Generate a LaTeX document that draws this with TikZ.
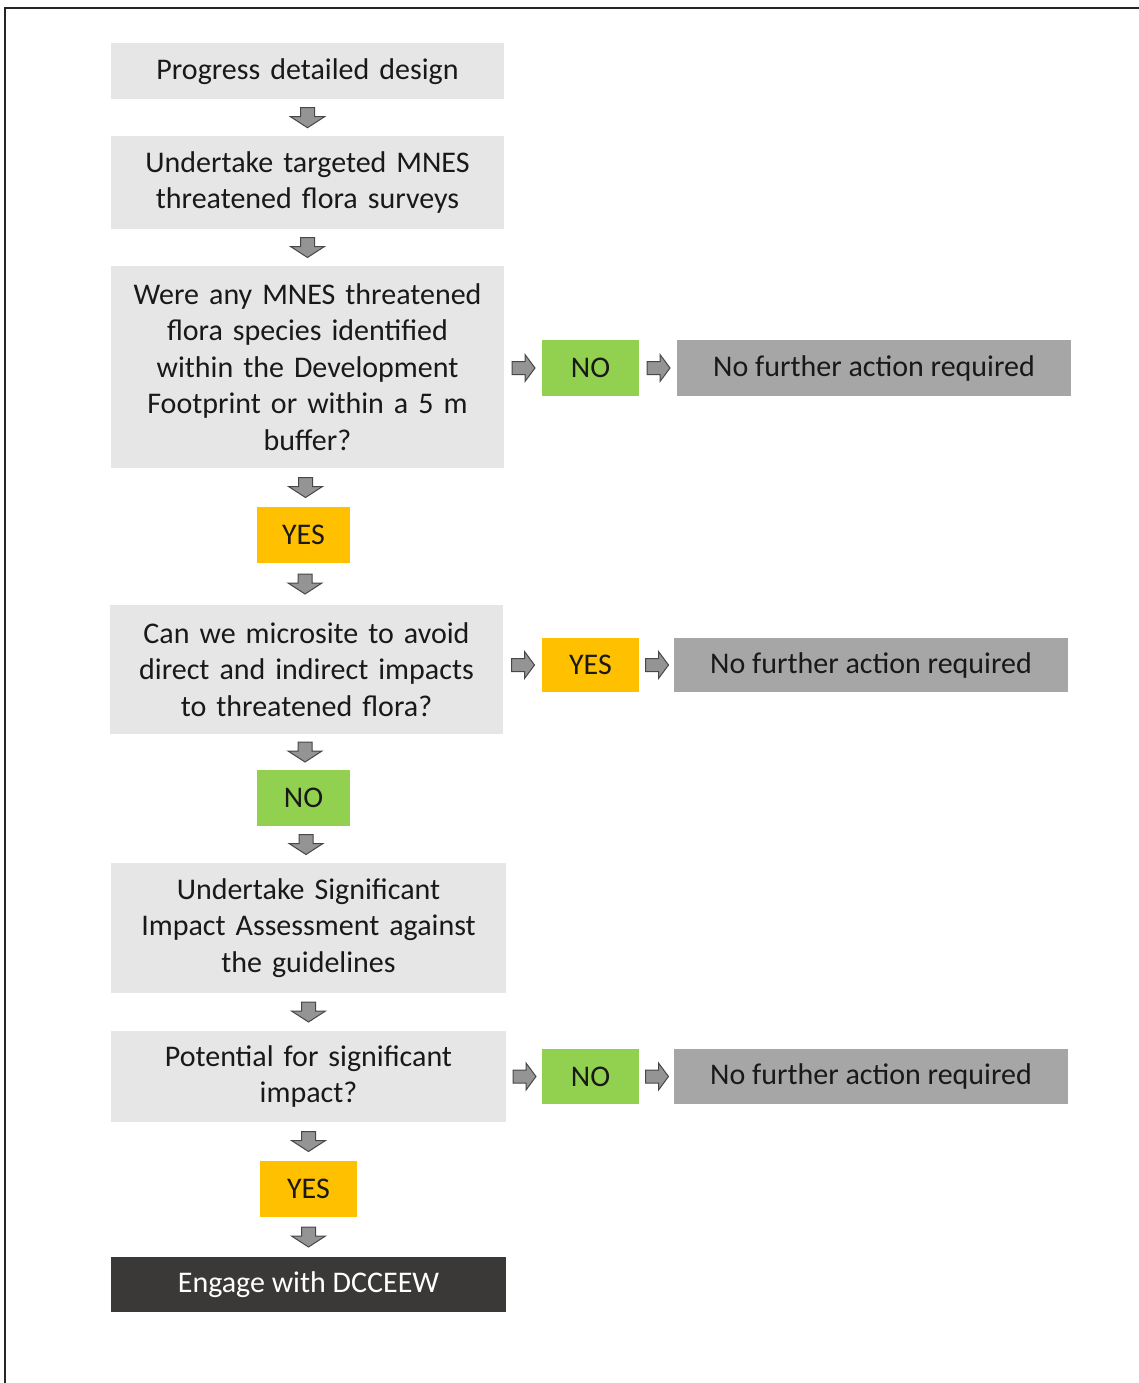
\documentclass[tikz,border=0pt]{standalone}
\usepackage{fontspec}
\setmainfont{Carlito}
\usetikzlibrary{calc}
\definecolor{boxgray}{HTML}{E6E6E6}
\definecolor{nogreen}{HTML}{92D050}
\definecolor{yesyellow}{HTML}{FFC000}
\definecolor{resgray}{HTML}{A6A6A6}
\definecolor{darkbox}{HTML}{3B3838}
\tikzset{
  every node/.style={inner sep=0pt, outer sep=0pt, align=center, font=\fontsize{30}{36.5}\selectfont, text=black!90},
  stepbox/.style={fill=boxgray, minimum width=393, text width=380},
  greenbox/.style={fill=nogreen, minimum width=97, minimum height=56},
  yellowbox/.style={fill=yesyellow, minimum width=93, minimum height=56},
  resbox/.style={fill=resgray, minimum width=394, minimum height=56},
  endbox/.style={fill=darkbox, text=white, minimum width=395, minimum height=55},
  arrowshape/.style={fill=black!42, draw=black!72, line width=1pt, line join=miter},
  downarr/.pic={\path[arrowshape] (-7,-10) -- (7,-10) -- (7,-1) -- (17,-1) -- (0,10) -- (-17,-1) -- (-7,-1) -- cycle;},
  rightarr/.pic={\path[arrowshape] (-11,-6.5) -- (2,-6.5) -- (2,-13.5) -- (12,0) -- (2,13.5) -- (2,6.5) -- (-11,6.5) -- cycle;}
}
\begin{document}
\begin{tikzpicture}[x=1pt,y=-1pt]
\useasboundingbox (0,0) rectangle (1139,1383);
\fill[white] (0,0) rectangle (1139,1383);
\draw[line width=2.2pt, black!85] (5,1383) -- (5,8) -- (1139,8);

\node[stepbox, minimum height=56] (b1) at (307.5,71.5) {Progress detailed design};
\node[stepbox, minimum height=93] (b2) at (307.5,182.5) {Undertake targeted MNES\\threatened flora surveys};
\node[stepbox, minimum height=202] (b3) at (307.5,367) {Were any MNES threatened\\flora species identified\\within the Development\\Footprint or within a 5 m\\buffer?};
\node[greenbox] (no1) at (590.5,368) {NO};
\node[resbox] (g1) at (874,368) {No further action required};
\node[yellowbox] (yes1) at (303.5,535) {YES};
\node[stepbox, minimum height=129] (b4) at (306.5,669.5) {Can we microsite to avoid\\direct and indirect impacts\\to threatened flora?};
\node[yellowbox, minimum width=97, minimum height=54] (yes2) at (590.5,665) {YES};
\node[resbox, minimum height=54] (g2) at (871,665) {No further action required};
\node[greenbox, minimum width=93] (no2) at (303.5,798) {NO};
\node[stepbox, minimum width=395, minimum height=130] (b5) at (308.5,928) {Undertake Significant\\Impact Assessment against\\the guidelines};
\node[stepbox, minimum width=395, minimum height=91] (b6) at (308.5,1076.5) {Potential for significant\\impact?};
\node[greenbox, minimum height=55] (no3) at (590.5,1076.5) {NO};
\node[resbox, minimum height=55] (g3) at (871,1076.5) {No further action required};
\node[yellowbox, minimum width=97] (yes3) at (308.5,1189) {YES};
\node[endbox] (b7) at (308.5,1284.5) {Engage with DCCEEW};

\foreach \a/\b in {b1/b2, b2/b3, b3/yes1, yes1/b4, b4/no2, no2/b5, b5/b6, b6/yes3, yes3/b7}
  \pic at ($(\a.south)!0.5!(\b.north)$) {downarr};
\pic at ($(b3.east |- no1.west)!0.5!(no1.west)$) {rightarr};
\pic at ($(no1.east)!0.5!(g1.west)$) {rightarr};
\pic at ($(b4.east |- yes2.west)!0.5!(yes2.west)$) {rightarr};
\pic at ($(yes2.east)!0.5!(g2.west)$) {rightarr};
\pic at ($(b6.east |- no3.west)!0.5!(no3.west)$) {rightarr};
\pic at ($(no3.east)!0.5!(g3.west)$) {rightarr};
\end{tikzpicture}
\end{document}
